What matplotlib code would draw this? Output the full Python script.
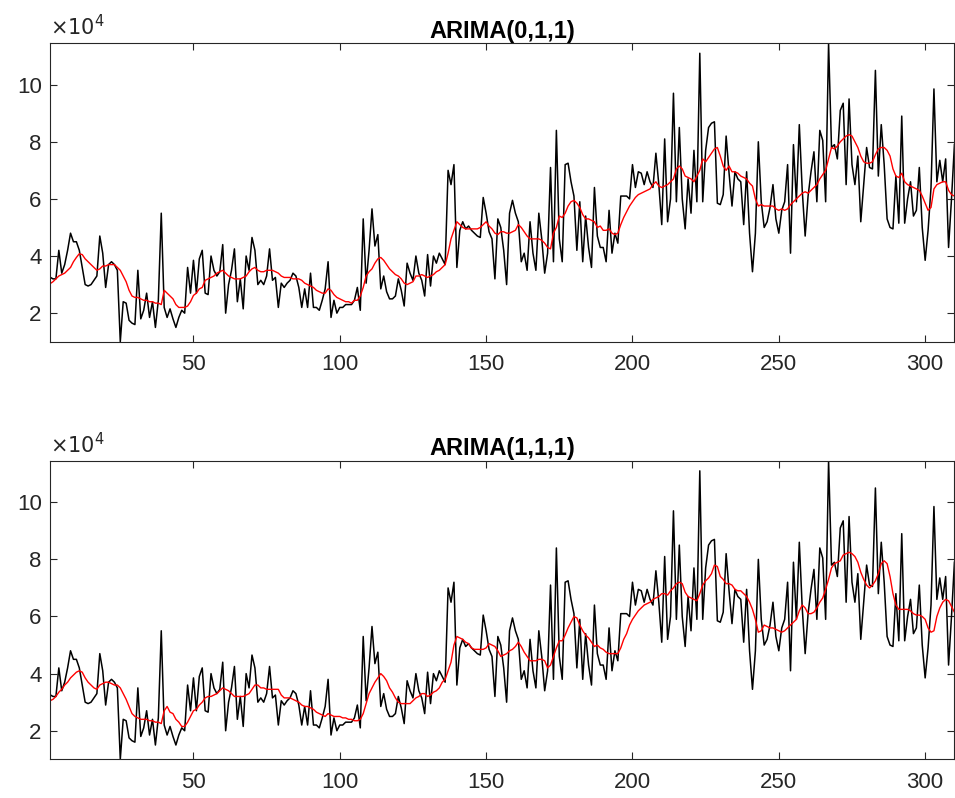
import numpy as np
import matplotlib
matplotlib.use('Agg')
import matplotlib.pyplot as plt

plt.rcParams['font.family'] = ['Liberation Sans', 'DejaVu Sans']

observed = [
    3.26, 3.2, 3.2, 4.2, 3.4, 3.7, 4.2, 4.8, 4.5, 4.5,
    4.2, 3.6, 3.0, 2.95, 3.0, 3.15, 3.3, 4.7, 4.1, 2.9,
    3.7, 3.8, 3.7, 3.5, 1.0, 2.4, 2.35, 1.75, 1.65, 1.6,
    3.5, 1.8, 2.1, 2.7, 1.85, 2.4, 1.5, 2.45, 5.5, 2.2,
    1.85, 2.15, 1.8, 1.5, 1.85, 2.1, 2.0, 3.6, 2.7, 3.85,
    2.7, 3.9, 4.2, 2.7, 2.65, 4.0, 3.5, 3.3, 3.45, 4.4,
    2.0, 3.0, 3.5, 4.25, 2.4, 3.2, 2.15, 4.0, 3.5, 4.65,
    4.2, 3.0, 3.15, 3.0, 3.3, 4.25, 3.15, 3.25, 2.2, 3.05,
    2.9, 3.05, 3.15, 3.4, 3.3, 2.9, 2.2, 2.85, 2.2, 3.4,
    2.2, 2.2, 2.1, 2.45, 2.85, 3.8, 1.85, 2.45, 2.0, 2.2,
    2.2, 2.3, 2.3, 2.3, 2.45, 2.9, 2.1, 5.3, 3.05, 4.2,
    5.65, 4.35, 4.75, 2.85, 3.3, 2.75, 2.5, 2.5, 2.6, 3.2,
    2.8, 2.25, 3.75, 3.4, 3.15, 4.0, 3.4, 3.15, 2.6, 4.05,
    2.95, 4.0, 3.75, 4.1, 3.9, 3.7, 7.0, 6.5, 7.2, 3.6,
    4.9, 5.2, 4.95, 5.05, 4.9, 4.8, 4.7, 4.65, 6.05, 5.5,
    4.85, 4.6, 3.2, 5.3, 5.0, 4.2, 3.0, 5.5, 5.95, 5.5,
    5.2, 3.8, 4.1, 3.5, 5.2, 4.1, 3.5, 5.5, 4.6, 3.4,
    4.1, 7.1, 3.8, 8.4, 4.6, 3.8, 7.2, 7.25, 6.6, 6.1,
    4.2, 5.9, 3.8, 5.4, 4.3, 3.6, 6.4, 4.7, 4.3, 4.3,
    3.8, 5.6, 4.1, 4.8, 4.45, 6.1, 6.1, 6.1, 6.0, 7.2,
    6.4, 6.95, 6.9, 6.5, 6.95, 6.6, 6.4, 7.6, 6.5, 5.1,
    8.1, 5.2, 6.0, 9.7, 5.9, 8.5, 6.0, 4.95, 6.7, 5.5,
    7.7, 5.9, 11.1, 5.9, 7.7, 8.5, 8.65, 8.7, 5.85, 5.8,
    6.15, 8.2, 6.9, 5.75, 6.95, 6.7, 6.6, 5.1, 6.95, 4.8,
    3.45, 4.8, 8.0, 5.9, 5.0, 5.2, 5.7, 6.5, 5.3, 4.8,
    5.6, 5.9, 7.2, 4.1, 7.9, 5.9, 8.6, 6.3, 4.7, 6.1,
    6.95, 7.65, 5.9, 8.4, 8.05, 5.9, 11.45, 7.8, 7.9, 7.4,
    9.1, 9.35, 6.5, 9.5, 7.2, 6.5, 7.5, 5.2, 6.5, 7.8,
    7.1, 7.05, 10.5, 6.8, 8.6, 7.2, 5.3, 5.0, 4.95, 6.8,
    5.15, 8.9, 5.15, 6.0, 6.6, 5.4, 5.6, 7.1, 5.0, 3.85,
    4.9, 6.4, 9.85, 6.6, 7.35, 6.6, 7.4, 4.3, 6.0, 7.9,
]

# fitted ARIMA(0,1,1)
fit_011 = [
    3.03, 3.1, 3.2, 3.3, 3.35, 3.4, 3.5, 3.6, 3.8, 3.95,
    4.08, 4.05, 3.9, 3.8, 3.7, 3.6, 3.5, 3.55, 3.65, 3.65,
    3.7, 3.7, 3.7, 3.6, 3.5, 3.3, 3.1, 2.8, 2.6, 2.55,
    2.55, 2.5, 2.45, 2.45, 2.4, 2.4, 2.35, 2.35, 2.3, 2.8,
    2.7, 2.6, 2.5, 2.3, 2.2, 2.2, 2.2, 2.25, 2.4, 2.62,
    2.7, 2.85, 2.9, 3.15, 3.2, 3.25, 3.3, 3.4, 3.45, 3.5,
    3.4, 3.3, 3.25, 3.2, 3.2, 3.2, 3.25, 3.3, 3.45, 3.55,
    3.6, 3.5, 3.45, 3.45, 3.5, 3.5, 3.5, 3.45, 3.4, 3.3,
    3.25, 3.25, 3.25, 3.2, 3.2, 3.2, 3.15, 3.05, 3.0, 2.95,
    2.9, 2.8, 2.75, 2.7, 2.7, 2.85, 2.8, 2.65, 2.55, 2.5,
    2.45, 2.4, 2.4, 2.35, 2.45, 2.45, 2.6, 2.9, 3.3, 3.45,
    3.55, 3.75, 3.9, 3.95, 3.85, 3.7, 3.55, 3.45, 3.35, 3.3,
    3.2, 3.05, 3.0, 3.05, 3.1, 3.3, 3.3, 3.35, 3.3, 3.25,
    3.3, 3.35, 3.45, 3.5, 3.6, 3.7, 4.1, 4.6, 4.9, 5.2,
    5.1, 5.0, 4.95, 4.95, 4.95, 4.95, 4.95, 5.0, 5.1, 5.2,
    5.05, 4.95, 4.8, 4.75, 4.85, 4.85, 4.8, 4.8, 4.85, 4.9,
    5.1, 5.0, 4.85, 4.7, 4.6, 4.6, 4.6, 4.6, 4.55, 4.45,
    4.3, 4.25, 4.8, 5.0, 5.4, 5.35, 5.5, 5.75, 5.9, 5.95,
    5.85, 5.7, 5.45, 5.3, 5.3, 5.25, 5.2, 5.0, 5.05, 4.9,
    4.9, 4.95, 4.8, 4.75, 4.8, 5.1, 5.35, 5.55, 5.75, 5.9,
    6.05, 6.15, 6.2, 6.25, 6.3, 6.35, 6.5, 6.6, 6.45, 6.4,
    6.45, 6.5, 6.6, 6.7, 7.05, 7.15, 7.05, 6.8, 6.75, 6.7,
    6.6, 6.8, 7.0, 7.4, 7.3, 7.45, 7.6, 7.75, 7.8, 7.5,
    7.15, 7.0, 7.15, 6.95, 6.95, 6.9, 6.8, 6.75, 6.7, 6.55,
    6.45, 6.0, 5.75, 5.8, 5.75, 5.75, 5.75, 5.75, 5.65, 5.6,
    5.65, 5.6, 5.65, 5.8, 5.9, 6.0, 6.1, 6.2, 6.25, 6.2,
    6.3, 6.4, 6.5, 6.7, 6.85, 7.0, 7.4, 7.8, 7.75, 7.85,
    8.0, 8.1, 8.2, 8.25, 8.2, 8.0, 7.8, 7.5, 7.3, 7.25,
    7.25, 7.3, 7.55, 7.75, 7.8, 7.8, 7.7, 7.5, 7.05, 6.8,
    6.75, 6.9, 6.6, 6.5, 6.45, 6.4, 6.35, 6.3, 6.1, 5.85,
    5.6, 5.7, 6.35, 6.5, 6.55, 6.6, 6.6, 6.3, 6.15, 6.1,
]

# fitted ARIMA(1,1,1)
fit_111 = [
    3.05, 3.1, 3.2, 3.35, 3.45, 3.6, 3.7, 3.85, 3.95, 4.05,
    4.1, 4.05, 3.85, 3.7, 3.6, 3.5, 3.45, 3.6, 3.65, 3.7,
    3.7, 3.65, 3.6, 3.6, 3.5, 3.3, 3.1, 2.85, 2.6, 2.5,
    2.45, 2.4, 2.4, 2.4, 2.35, 2.35, 2.3, 2.3, 2.25, 2.7,
    2.85, 2.65, 2.6, 2.4, 2.3, 2.15, 2.15, 2.3, 2.5, 2.7,
    2.75, 2.9, 3.0, 3.15, 3.2, 3.2, 3.25, 3.3, 3.4, 3.5,
    3.45, 3.4, 3.3, 3.2, 3.2, 3.2, 3.2, 3.25, 3.3, 3.45,
    3.6, 3.6, 3.5, 3.5, 3.45, 3.45, 3.45, 3.45, 3.45, 3.25,
    3.15, 3.15, 3.15, 3.1, 3.05, 3.0, 2.9, 2.85, 2.85, 2.8,
    2.75, 2.65, 2.6, 2.55, 2.5, 2.6, 2.55, 2.5, 2.5, 2.5,
    2.45, 2.45, 2.4, 2.4, 2.35, 2.35, 2.4, 2.6, 2.95, 3.3,
    3.5, 3.7, 3.85, 4.0, 3.9, 3.75, 3.5, 3.35, 3.15, 3.0,
    2.95, 2.95, 2.95, 2.95, 3.05, 3.15, 3.2, 3.3, 3.3, 3.2,
    3.25, 3.35, 3.4, 3.5, 3.7, 3.8, 4.1, 4.4, 5.0, 5.3,
    5.25, 5.2, 5.1, 5.05, 4.9, 4.85, 4.85, 4.85, 4.85, 4.9,
    5.05, 5.0, 4.95, 4.8, 4.6, 4.65, 4.7, 4.8, 4.85, 4.95,
    5.1, 4.95, 4.75, 4.6, 4.45, 4.45, 4.45, 4.5, 4.5, 4.45,
    4.2, 4.3, 4.6, 4.9, 5.15, 5.15, 5.35, 5.6, 5.8, 6.0,
    5.95, 5.7, 5.5, 5.35, 5.25, 5.1, 4.95, 5.0, 4.9, 4.85,
    4.75, 4.7, 4.7, 4.7, 4.7, 4.9, 5.2, 5.4, 5.7, 5.9,
    6.05, 6.2, 6.3, 6.4, 6.45, 6.5, 6.6, 6.65, 6.7, 6.8,
    6.8, 6.75, 6.9, 7.0, 7.15, 7.2, 7.15, 6.85, 6.7, 6.65,
    6.6, 6.55, 6.8, 7.1, 7.25, 7.35, 7.5, 7.8, 7.75, 7.4,
    7.3, 7.15, 7.15, 7.1, 6.95, 6.9, 6.9, 6.8, 6.7, 6.5,
    6.25, 5.9, 5.45, 5.5, 5.7, 5.65, 5.6, 5.6, 5.55, 5.5,
    5.45, 5.5, 5.6, 5.7, 5.8, 5.9, 6.2, 6.4, 6.3, 6.1,
    6.1, 6.15, 6.3, 6.5, 6.65, 6.95, 7.3, 7.7, 7.85, 7.9,
    7.95, 8.15, 8.2, 8.25, 8.2, 8.1, 7.9, 7.55, 7.3, 7.1,
    7.0, 7.1, 7.25, 7.5, 7.85, 7.95, 7.85, 7.4, 6.8, 6.4,
    6.25, 6.25, 6.25, 6.25, 6.2, 6.1, 6.05, 6.05, 6.0, 5.9,
    5.6, 5.45, 5.5, 6.0, 6.3, 6.5, 6.6, 6.55, 6.35, 6.15,
]

titles = ['ARIMA(0,1,1)', 'ARIMA(1,1,1)']
xticks = [50, 100, 150, 200, 250, 300]
yticks = [2, 4, 6, 8, 10]

y = np.array(observed) * 1e4
t = np.arange(1, len(y) + 1)
fits = [np.array(fit_011) * 1e4, np.array(fit_111) * 1e4]

axcol = (0.15, 0.15, 0.15)
fig = plt.figure(figsize=(9.55, 7.98), dpi=100)
boxes = [[0.0524, 0.5718, 0.947, 0.374], [0.0524, 0.0485, 0.947, 0.374]]

for box, title, fit in zip(boxes, titles, fits):
    ax = fig.add_axes(box)
    ax.plot(t, y, color='black', lw=1.1)
    ax.plot(t, fit, color='red', lw=1.0)
    ax.set_xlim(1, len(y))
    ax.set_ylim(y.min(), y.max())
    ax.set_xticks(xticks)
    ax.set_yticks([v * 1e4 for v in yticks])
    ax.set_yticklabels([str(v) for v in yticks])
    ax.tick_params(direction='in', length=5, width=0.8, top=True, right=True,
                   labelsize=16, colors=axcol, pad=9)
    ax.tick_params(axis='y', pad=6)
    for s in ax.spines.values():
        s.set_color(axcol)
        s.set_linewidth(0.8)
    ax.set_title(title, fontsize=17, fontweight='bold', pad=4)
    ax.text(0.0, 1.012, r'$\times10^{4}$', transform=ax.transAxes,
            fontsize=15, color=axcol, ha='left', va='bottom')

fig.savefig('out.png', dpi=100)
